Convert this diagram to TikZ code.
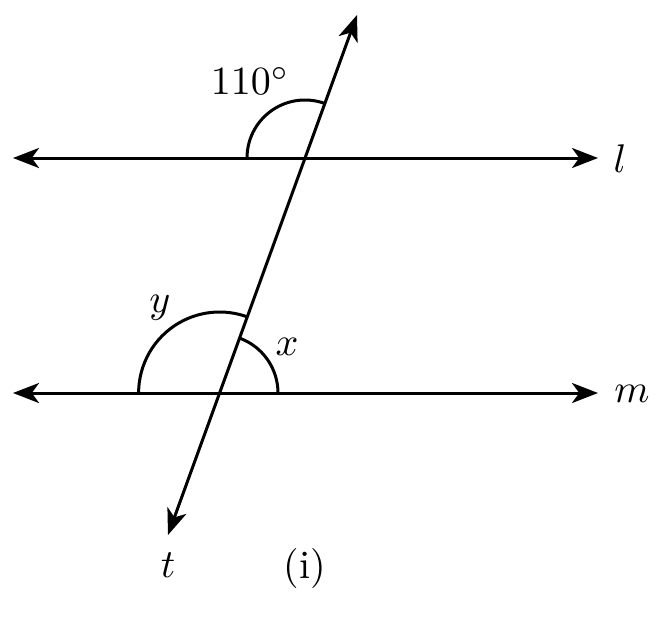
\documentclass[tikz,border=0pt]{standalone}
\usetikzlibrary{arrows.meta}
\begin{document}
\begin{tikzpicture}[x=0.25pt,y=0.25pt,
  lineart/.style={line width=0.75pt,{Stealth[length=6.5pt,width=5pt,inset=1.8pt]}-{Stealth[length=6.5pt,width=5pt,inset=1.8pt]}},
  anglearc/.style={line width=0.75pt},
  lbl/.style={inner sep=0pt,anchor=base}]
\useasboundingbox (0,0) rectangle (664,623);
\coordinate (lL) at (13,465);
\coordinate (lR) at (598,465);
\coordinate (mL) at (13,230);
\coordinate (mR) at (598,230);
\coordinate (tT) at (357,608);
\coordinate (tB) at (168,88);
\coordinate (P) at (305,465);
\coordinate (Q) at (219.6,230);
\draw[lineart] (lL) -- (lR);
\draw[lineart] (mL) -- (mR);
\draw[lineart] (tB) -- (tT);
\draw[anglearc] ([xshift=-14.5pt]P) arc[start angle=180,end angle=70,radius=14.5pt];
\draw[anglearc] ([xshift=-20.25pt]Q) arc[start angle=180,end angle=70,radius=20.25pt];
\draw[anglearc] ([xshift=14.6pt]Q) arc[start angle=0,end angle=70,radius=14.6pt];
\node[lbl] (a110) at (250,528) {$110^\circ$};
\node[lbl] (ll) at (620,451) {$l$};
\node[lbl] (lm) at (632,221) {$m$};
\node[lbl] (ly) at (160,311) {$y$};
\node[lbl] (lx) at (287,268) {$x$};
\node[lbl] (lt) at (168,46) {$t$};
\node[lbl] (li) at (305,45) {(i)};
\end{tikzpicture}
\end{document}
